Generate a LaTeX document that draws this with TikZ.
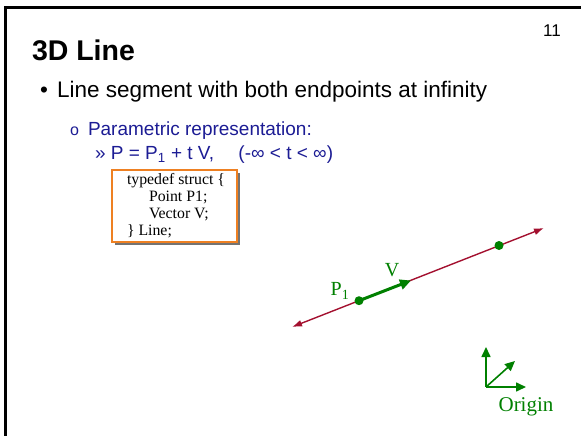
\documentclass[tikz,border=0pt]{standalone}
\usepackage{fontspec}
\setmainfont{Liberation Serif}
\newfontfamily\arialfont{Liberation Sans}
\usepackage{xcolor}
\usetikzlibrary{arrows.meta,positioning,shadows}
\definecolor{navytext}{HTML}{1C1C94}
\definecolor{linered}{HTML}{A3102F}
\definecolor{ptgreen}{HTML}{008000}
\definecolor{boxorange}{HTML}{EE8022}

\begin{document}
\begin{tikzpicture}[
      x=1pt,y=-1pt,
      every node/.style={inner sep=0pt,outer sep=0pt},
      slidetext/.style={anchor=base west,font=\arialfont\fontsize{22.5}{26}\selectfont},
      subtext/.style={anchor=base west,text=navytext,font=\arialfont\fontsize{19}{22}\selectfont},
      codebox/.style={draw=boxorange,line width=1.3pt,fill=white,minimum width=125pt,minimum height=72pt,
        anchor=north west,align=left,inner sep=0pt,font=\fontsize{15.8}{17}\selectfont,
        drop shadow={shadow xshift=3pt,shadow yshift=-3pt,fill=black!55,opacity=1}},
      gdot/.style={circle,fill=ptgreen,minimum size=9pt},
      glabel/.style={text=ptgreen,font=\fontsize{20}{22}\selectfont},
      linearr/.style={{Latex[length=10pt,width=7pt]}-{Latex[length=10pt,width=7pt]}, line width=1.4pt, draw=linered},
      vecarr/.style={-{Triangle[length=11pt,width=10pt]}, line width=3pt, draw=ptgreen},
      axisarr/.style={-{Triangle[length=10pt,width=9pt]}, line width=1.6pt, draw=ptgreen}
  ]
    \useasboundingbox (0,0) rectangle (581,436);
    \draw[line width=2.6pt] (581,7.5) -- (5.5,7.5) -- (5.5,436);

    \node[anchor=base,font=\arialfont\fontsize{17}{19}\selectfont] (pagenum) at (552,37) {11};
    \node[anchor=base west,font=\arialfont\bfseries\fontsize{28.5}{31}\selectfont] (title) at (32,61) {3D Line};

    \node[slidetext] (bullet) at (40,97) {•};
    \node[slidetext] (item) at (57,97) {Line segment with both endpoints at infinity};
    \node[subtext,font=\arialfont\fontsize{16}{18}\selectfont] (subbullet) at (70,135) {o};
    \node[subtext] (subitem) at (88,135) {Parametric representation:};
    \node[subtext] (formula) at (95,159)
      {» P = P\textsubscript{1} + t V,\quad\ (-∞ < t < ∞)};

    \node[codebox] (linestruct) at (112,170)
      {\hspace*{3pt}typedef struct \{\\
       \hspace*{25pt}Point P1;\\
       \hspace*{25pt}Vector V;\\
       \hspace*{3pt}\} Line;};

    \coordinate (lineA) at (292,327);
    \coordinate (lineB) at (544,228);
    \draw[linearr] (lineA) -- (lineB);
    \node[gdot] (p1dot) at (359,300.7) {};
    \node[gdot] (p2dot) at (499,245.5) {};
    \coordinate (vtip) at (411,280.5);
    \draw[vecarr] (p1dot.center) -- (vtip);
    \node[glabel] (vlabel) at (392,270) {V};
    \node[glabel] (p1label) at (340,291) {P\textsubscript{1}};

    \coordinate (orig) at (486,387);
    \coordinate (xaxis) at (526,387);
    \coordinate (yaxis) at (486,347);
    \coordinate (zaxis) at (515,361);
    \draw[axisarr] (orig) -- (xaxis);
    \draw[axisarr] (orig) -- (yaxis);
    \draw[axisarr] (orig) -- (zaxis);
    \node[glabel,anchor=base,font=\fontsize{21}{23}\selectfont] (origlabel) at (526,411) {Origin};
  \end{tikzpicture}
\end{document}
